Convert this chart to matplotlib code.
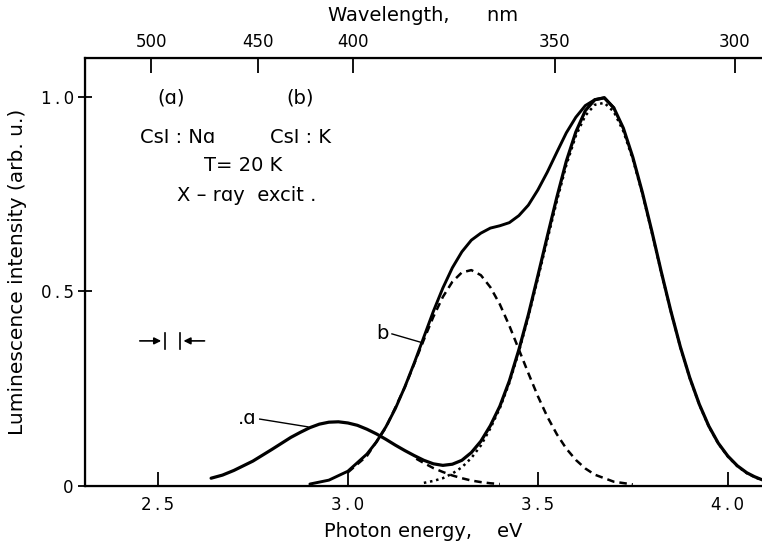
import matplotlib
matplotlib.use('Agg')
import matplotlib.pyplot as plt

# photon energy (eV) / intensity
energy_a = [2.64, 2.67, 2.70, 2.75, 2.80, 2.85, 2.875, 2.90, 2.925, 2.95, 2.975, 3.00,
            3.025, 3.05, 3.075, 3.10, 3.125, 3.15, 3.175, 3.20, 3.225, 3.25, 3.275, 3.30,
            3.325, 3.35, 3.375, 3.40, 3.425, 3.45, 3.475, 3.50, 3.525, 3.55, 3.575, 3.60,
            3.625, 3.65, 3.675, 3.70, 3.725, 3.75, 3.775, 3.80, 3.825, 3.85, 3.875, 3.90,
            3.925, 3.95, 3.975, 4.00, 4.025, 4.05, 4.07, 4.09]
lum_a = [0.020, 0.028, 0.040, 0.064, 0.094, 0.125, 0.138, 0.150, 0.159, 0.164, 0.165, 0.162,
         0.156, 0.146, 0.134, 0.120, 0.105, 0.091, 0.078, 0.066, 0.057, 0.053, 0.056, 0.066,
         0.086, 0.115, 0.155, 0.205, 0.270, 0.350, 0.440, 0.540, 0.642, 0.742, 0.835, 0.910,
         0.965, 0.993, 0.998, 0.972, 0.920, 0.845, 0.755, 0.655, 0.550, 0.450, 0.358, 0.278,
         0.210, 0.154, 0.110, 0.077, 0.052, 0.034, 0.024, 0.016]

energy_b = [2.90, 2.95, 3.00, 3.05, 3.075, 3.10, 3.125, 3.15, 3.175, 3.20, 3.225, 3.25,
            3.275, 3.30, 3.325, 3.35, 3.375, 3.40, 3.425, 3.45, 3.475, 3.50, 3.525, 3.55,
            3.575, 3.60, 3.625, 3.65, 3.675, 3.70]
lum_b = [0.005, 0.015, 0.038, 0.082, 0.113, 0.152, 0.199, 0.255, 0.317, 0.383, 0.449, 0.509,
         0.561, 0.602, 0.632, 0.650, 0.663, 0.669, 0.677, 0.695, 0.722, 0.761, 0.807, 0.858,
         0.908, 0.948, 0.978, 0.993, 0.998, 0.972]

# decomposition of b: band at 3.32 eV (dashed)
energy_b1 = [3.00, 3.05, 3.10, 3.15, 3.20, 3.225, 3.25, 3.275, 3.30, 3.325, 3.35, 3.375,
             3.40, 3.425, 3.45, 3.475, 3.50, 3.525, 3.55, 3.575, 3.60, 3.625, 3.65, 3.70,
             3.75]
lum_b1 = [0.035, 0.077, 0.150, 0.254, 0.376, 0.435, 0.486, 0.525, 0.549, 0.555, 0.542, 0.511,
          0.467, 0.412, 0.351, 0.290, 0.231, 0.178, 0.133, 0.096, 0.067, 0.045, 0.029, 0.011,
          0.004]

# tail of the 2.97 eV band of a (dashed)
energy_a1 = [3.18, 3.20, 3.225, 3.25, 3.275, 3.30, 3.325, 3.35, 3.375, 3.40]
lum_a1 = [0.070, 0.059, 0.046, 0.036, 0.027, 0.020, 0.014, 0.010, 0.007, 0.005]

# 3.66 eV band (dotted)
energy_c = [3.20, 3.225, 3.25, 3.275, 3.30, 3.325, 3.35, 3.375, 3.40, 3.425, 3.45, 3.475,
            3.50, 3.525, 3.55, 3.575, 3.60, 3.625, 3.65, 3.675, 3.70, 3.725, 3.75, 3.775,
            3.80, 3.825, 3.85, 3.875, 3.90, 3.925, 3.95, 3.975, 4.00, 4.025, 4.05, 4.07,
            4.09]
lum_c = [0.008, 0.013, 0.020, 0.032, 0.048, 0.072, 0.104, 0.148, 0.200, 0.265, 0.345, 0.435,
         0.533, 0.633, 0.732, 0.825, 0.900, 0.952, 0.980, 0.985, 0.962, 0.912, 0.840, 0.752,
         0.652, 0.548, 0.449, 0.357, 0.277, 0.209, 0.153, 0.109, 0.076, 0.051, 0.033, 0.023,
         0.015]

x_ticks = [2.5, 3.0, 3.5, 4.0]
x_labels = ['2\u2009.\u20095', '3\u2009.\u20090', '3\u2009.\u20095', '4\u2009.\u20090']
y_ticks = [0, 0.5, 1.0]
y_labels = ['0', '0\u2009.\u20095', '1\u2009.\u20090']
top_tick_ev = [2.482, 2.763, 3.013, 3.545, 4.018]
top_labels = ['500', '450', '400', '350', '300']

plt.rcParams['font.family'] = 'DejaVu Sans'

fig = plt.figure(figsize=(7.62, 5.43), dpi=100)
ax = fig.add_axes([0.1115, 0.105, 0.8885, 0.788])

ax.plot(energy_a, lum_a, color='black', lw=2.3, solid_joinstyle='round', solid_capstyle='round')
ax.plot(energy_b, lum_b, color='black', lw=2.1, solid_joinstyle='round', solid_capstyle='round')
ax.plot(energy_b1, lum_b1, color='black', lw=1.8, ls=(0, (3, 2)))
ax.plot(energy_a1, lum_a1, color='black', lw=1.8, ls=(0, (3, 2)))
ax.plot(energy_c, lum_c, color='black', lw=1.8, ls=(0, (1, 1.5)))

ax.set_xlim(2.308, 4.09)
ax.set_ylim(0, 1.10)

ax.set_xticks(x_ticks)
ax.set_xticklabels(x_labels)
ax.set_yticks(y_ticks)
ax.set_yticklabels(y_labels)
ax.tick_params(axis='x', direction='in', length=10, width=1.3, labelsize=12, pad=7)
ax.tick_params(axis='y', direction='inout', length=10, width=1.3, labelsize=12, pad=3)

for side in ['left', 'bottom', 'top']:
    ax.spines[side].set_linewidth(1.6)
ax.spines['right'].set_visible(False)

ax.set_xlabel('Photon energy,    eV', fontsize=14, labelpad=6)
ax.set_ylabel('Luminescence intensity (arb. u.)', fontsize=14.5, labelpad=10)

ax2 = ax.twiny()
ax2.set_xlim(ax.get_xlim())
ax2.set_xticks(top_tick_ev)
ax2.set_xticklabels(top_labels)
ax2.tick_params(axis='x', direction='in', length=11, width=1.3, labelsize=12, pad=5)
ax2.spines['right'].set_visible(False)
ax2.set_xlabel('Wavelength,      nm', fontsize=14, labelpad=9)

# text annotations
ax.text(2.536, 0.998, '(\u0251)', fontsize=14, ha='center', va='center')
ax.text(2.874, 0.998, '(b)', fontsize=14, ha='center', va='center')
ax.text(2.553, 0.895, 'CsI : N\u0251', fontsize=14, ha='center', va='center')
ax.text(2.874, 0.895, 'CsI : K', fontsize=14, ha='center', va='center')
ax.text(2.724, 0.823, 'T= 20 K', fontsize=14, ha='center', va='center')
ax.text(2.734, 0.748, 'X \u2013 r\u0251y  excit .', fontsize=14, ha='center', va='center')

# curve labels with leaders
ax.text(2.760, 0.174, '.\u0251', fontsize=14, ha='right', va='center')
ax.plot([2.768, 2.895], [0.172, 0.152], color='black', lw=1.0)
ax.text(3.108, 0.392, 'b', fontsize=14, ha='right', va='center')
ax.plot([3.116, 3.197], [0.391, 0.368], color='black', lw=1.0)

# resolution marker
ax.plot([2.518, 2.518], [0.352, 0.394], color='black', lw=1.2)
ax.plot([2.558, 2.558], [0.352, 0.394], color='black', lw=1.2)
ax.annotate('', xy=(2.516, 0.373), xytext=(2.445, 0.373),
            arrowprops=dict(arrowstyle='-|>', color='black', lw=1.2, mutation_scale=10))
ax.annotate('', xy=(2.560, 0.373), xytext=(2.630, 0.373),
            arrowprops=dict(arrowstyle='-|>', color='black', lw=1.2, mutation_scale=10))

plt.savefig('out.png', dpi=100)
